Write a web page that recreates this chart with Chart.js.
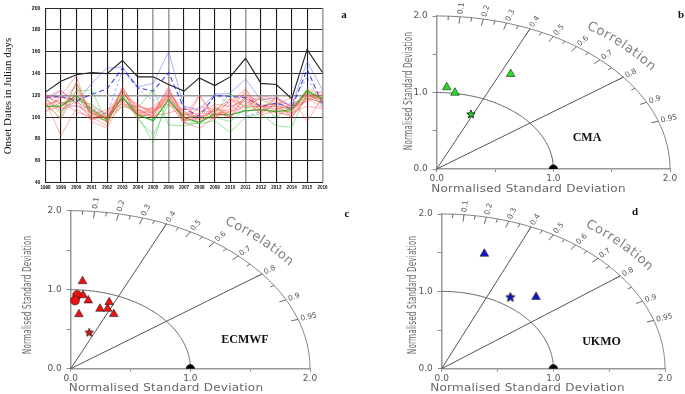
<!DOCTYPE html>
<html><head><meta charset="utf-8">
<script src="https://cdn.jsdelivr.net/npm/chart.js@4.4.1/dist/chart.umd.min.js"></script>
<style>
html,body{margin:0;padding:0;background:#fff;width:685px;height:394px;overflow:hidden;position:relative}
canvas{position:absolute}
</style></head><body>
<canvas id="ca" style="left:0;top:0" width="348" height="197"></canvas>
<canvas id="cb" style="left:345px;top:0" width="340" height="197"></canvas>
<canvas id="cc" style="left:0;top:197px" width="350" height="197"></canvas>
<canvas id="cd" style="left:345px;top:197px" width="340" height="197"></canvas>
<script>
// ---------- Panel a data ----------
const YEARS = ['1998','1999','2000','2001','2002','2003','2004','2005','2006','2007','2008','2009','2010','2011','2012','2013','2014','2015','2016'];
const OBSERVED = [123,133,139,141,140,152,137,137,130,124,136,129,137,154,131,130,117,162,141];
const UKMO_MEMBERS = [
  [118,119,115,121,126,145,127,124,141,108,101,120,119,118,110,113,108,144,112],
  [116,124,113,131,145,146,128,131,160,110,107,121,122,135,116,118,110,151,125],
  [119,113,110,108,102,143,126,115,122,105,96,121,112,101,105,112,113,137,110]
];
const CMA_MEMBERS = [
  [110,110,124,125,95,120,104,96,116,98,95,108,102,106,107,106,105,124,118],
  [112,99,132,100,97,125,101,77,120,95,94,97,86,100,103,92,91,122,116],
  [117,105,118,104,96,110,109,125,93,92,95,104,122,108,118,110,107,126,110],
  [108,113,115,112,101,120,98,84,112,103,100,100,96,108,111,100,110,118,113],
  [110,110,120,107,98,118,102,97,116,100,95,103,102,106,107,105,107,124,117]
];
const ECMWF_MEMBERS = [
  [118,125,112,100,92,128,105,104,128,95,90,100,105,125,110,108,103,120,115],
  [115,83,108,97,104,118,103,102,121,100,120,101,108,118,102,106,100,119,117],
  [104,120,138,96,90,116,108,99,120,110,97,110,100,112,120,116,110,115,125],
  [110,117,128,102,99,122,110,105,115,94,120,98,117,104,111,112,118,96,119],
  [120,112,120,110,103,113,102,101,104,108,106,105,114,126,104,118,105,122,112],
  [117,107,111,104,99,126,99,104,126,99,101,103,101,120,107,104,102,117,109],
  [113,98,124,108,100,110,106,108,118,104,95,108,105,110,110,110,108,125,122],
  [106,110,118,105,95,120,112,103,125,102,104,112,110,115,103,113,100,118,113],
  [119,118,116,98,105,124,104,106,117,97,99,99,112,122,109,107,112,120,120],
  [112,115,105,100,101,112,110,107,112,96,110,107,99,118,116,109,104,110,108],
  [122,108,114,106,96,127,107,101,123,105,100,106,117,110,118,114,106,123,116],
  [116,103,132,102,107,115,101,110,120,98,103,104,104,117,106,119,109,114,121]
];
const Y_TICKS = [40,60,80,100,120,140,160,180,200];
const GRAY_YEARS = ['2005','2006','2011','2016'];

// ---------- Taylor diagram data (normalised std-dev coordinates) ----------
const CMA_TRI_X = [0.086,0.157,0.634];
const CMA_TRI_Y = [1.068,0.997,1.242];
const CMA_STAR_X = [0.294];
const CMA_STAR_Y = [0.719];

const ECMWF_TRI_X = [0.099,0.103,0.147,0.322,0.245,0.308,0.360,0.069];
const ECMWF_TRI_Y = [1.108,0.930,0.864,0.842,0.759,0.759,0.691,0.689];
const ECMWF_CIRC_X = [0.054,0.036];
const ECMWF_CIRC_Y = [0.932,0.864];
const ECMWF_STAR_X = [0.155];
const ECMWF_STAR_Y = [0.461];

const UKMO_TRI_X = [0.382,0.845];
const UKMO_TRI_Y = [1.486,0.927];
const UKMO_STAR_X = [0.615];
const UKMO_STAR_Y = [0.927];

const REF_X = [1.0];
const REF_Y = [0.0];

const CORR_LABELS = [0.1,0.2,0.3,0.4,0.5,0.6,0.7,0.8,0.9,0.95];
const CORR_MINOR = [0.05,0.15,0.25,0.35,0.45,0.55,0.65,0.75,0.85];
const CORR_LINES = [0.4,0.8];
const STD_TICKS = [0,0.5,1,1.5,2];

Chart.defaults.font.family = 'DejaVu Sans';
Chart.defaults.animation = false;

const pts = (xs, ys) => xs.map((v,i)=>({x:v, y:ys[i]}));

// ---------- Panel a ----------
const A = {L:45.5, R:322.5, T:3.3, B:182.7, W:348, H:197};
const lineSets = [];
ECMWF_MEMBERS.forEach(m=>lineSets.push({data:m, borderColor:'rgba(255,70,70,0.55)', borderWidth:0.8}));
CMA_MEMBERS.forEach((m,i)=>lineSets.push({data:m, borderColor: i===4?'rgba(0,170,0,0.9)':'rgba(40,200,40,0.6)', borderWidth: i===4?1.1:0.8}));
UKMO_MEMBERS.forEach((m,i)=>lineSets.push({data:m, borderColor: i===0?'rgba(30,40,230,0.85)':'rgba(70,90,255,0.6)', borderWidth: i===0?1.1:0.8, borderDash: i===0?[5,3]:(i===2?[3,2]:[])}));
lineSets.push({data:OBSERVED, borderColor:'#222', borderWidth:1.1});
lineSets.forEach(d=>{d.pointRadius=0; d.tension=0; d.fill=false;});

const aDeco = {
  id:'aDeco',
  afterDraw(chart){
    const c = chart.ctx; c.save();
    c.fillStyle='#111';
    c.translate(8,96); c.rotate(-Math.PI/2);
    c.font='11px "Liberation Serif"'; c.textAlign='center'; c.textBaseline='middle';
    c.fillText('Onset Dates in Julian days',0,0);
    c.restore(); c.save();
    c.font='bold 11px "Liberation Serif"'; c.fillStyle='#111'; c.textAlign='center'; c.textBaseline='middle';
    c.fillText('a',344,15);
    c.restore();
  }
};

new Chart(document.getElementById('ca'), {
  type:'line',
  data:{labels:YEARS, datasets:lineSets},
  options:{
    responsive:false, devicePixelRatio:1,
    layout:{padding:{left:0,top:A.T,right:A.W-A.R,bottom:0}},
    plugins:{legend:{display:false}, tooltip:{enabled:false}},
    scales:{
      x:{
        afterFit:s=>{s.height=A.H-A.B;},
        grid:{drawTicks:false, color:c=>GRAY_YEARS.includes(YEARS[c.index])?'#a0a0a0':'#1a1a1a', lineWidth:c=>GRAY_YEARS.includes(YEARS[c.index])?1.6:1.1},
        border:{display:true,color:'#222'},
        ticks:{autoSkip:false, maxRotation:0, padding:2, color:'#111', font:{size:4.6, weight:'bold', family:'Liberation Sans'}}
      },
      y:{
        min:40, max:200,
        afterFit:s=>{s.width=A.L;},
        afterBuildTicks:s=>{s.ticks=Y_TICKS.map(v=>({value:v}));},
        grid:{drawTicks:false, color:c=>c.tick&&c.tick.value===120?'#9a9a9a':'#2a2a2a', lineWidth:c=>c.tick&&c.tick.value===120?1.6:1},
        border:{display:true,color:'#222'},
        ticks:{padding:5, color:'#111', font:{size:5.2, weight:'bold', family:'Liberation Sans'}}
      }
    }
  },
  plugins:[aDeco]
});

// ---------- Taylor diagrams ----------
function starImg(fill, size){
  const c=document.createElement('canvas'); c.width=c.height=size;
  const g=c.getContext('2d'); const cx=size/2, cy=size/2+0.4, R=size/2-0.6, r=R*0.45;
  g.beginPath();
  for(let i=0;i<10;i++){const a=-Math.PI/2+i*Math.PI/5; const rr=i%2?r:R; g.lineTo(cx+rr*Math.cos(a), cy+rr*Math.sin(a));}
  g.closePath(); g.fillStyle=fill; g.fill(); g.strokeStyle='#111'; g.lineWidth=0.8; g.stroke();
  return c;
}

const taylorGrid = {
  id:'taylorGrid',
  beforeDatasetsDraw(chart){
    const c=chart.ctx, xs=chart.scales.x, ys=chart.scales.y;
    const X=v=>xs.getPixelForValue(v), Y=v=>ys.getPixelForValue(v);
    const x0=X(0), y0=Y(0);
    c.save();
    const arc=(R)=>{c.beginPath(); for(let i=0;i<=120;i++){const t=Math.PI/2*i/120; const px=X(R*Math.cos(t)), py=Y(R*Math.sin(t)); i?c.lineTo(px,py):c.moveTo(px,py);} c.stroke();};
    c.lineWidth=1; c.strokeStyle='#808080'; arc(2);
    c.strokeStyle='#606060'; arc(1);
    CORR_LINES.forEach(r=>{const t=Math.acos(r); c.beginPath(); c.moveTo(x0,y0); c.lineTo(X(2*Math.cos(t)),Y(2*Math.sin(t))); c.strokeStyle='#555'; c.stroke();});
    const tick=(r,len)=>{const t=Math.acos(r); const px=X(2*Math.cos(t)), py=Y(2*Math.sin(t)); const dx=px-x0, dy=py-y0, n=Math.hypot(dx,dy); c.beginPath(); c.moveTo(px,py); c.lineTo(px-dx/n*len, py-dy/n*len); c.stroke(); return [px,py,dx/n,dy/n];};
    c.strokeStyle='#666'; c.lineWidth=1;
    CORR_MINOR.forEach(r=>tick(r,4));
    c.fillStyle='#555'; c.font='7.5px "DejaVu Sans"'; c.textBaseline='middle'; c.textAlign='left';
    CORR_LABELS.forEach(r=>{
      const [px,py,ux,uy]=tick(r,7);
      c.save(); c.translate(px+ux*2.5, py+uy*2.5); c.rotate(Math.atan2(uy,ux));
      c.fillText(String(r),0,0); c.restore();
    });
    c.restore();
  },
  afterDraw(chart, args, o){
    const c=chart.ctx, xs=chart.scales.x, ys=chart.scales.y;
    const X=v=>xs.getPixelForValue(v), Y=v=>ys.getPixelForValue(v);
    const kx=X(1)-X(0), ky=Y(0)-Y(1);
    c.save();
    c.font='13px "DejaVu Sans"'; c.fillStyle='#808080'; c.textAlign='left'; c.textBaseline='alphabetic';
    const R=2.24; let t=55*Math.PI/180;
    for(const ch of 'Correlation'){
      const px=X(R*Math.cos(t)), py=Y(R*Math.sin(t));
      const tx=kx*R*Math.sin(t), ty=ky*R*Math.cos(t);
      c.save(); c.translate(px,py); c.rotate(Math.atan2(ty,tx)); c.fillText(ch,0,0); c.restore();
      const w=c.measureText(ch).width+0.6;
      t-= w/Math.hypot(tx,ty);
    }
    c.font='10px "DejaVu Sans"'; c.fillStyle='#666'; c.textAlign='center'; c.textBaseline='middle';
    try{c.letterSpacing='0.2px';}catch(e){}
    c.save(); c.translate(o.xt[0], o.xt[1]); c.scale(1.2,1);
    c.fillText('Normalised Standard Deviation', 0, 0); c.restore();
    c.save(); c.translate(o.yt[0], o.yt[1]); c.rotate(-Math.PI/2); c.scale(0.73,1.3);
    c.fillText('Normalised Standard Deviation', 0, 0); c.restore();
    try{c.letterSpacing='0px';}catch(e){}
    c.font='bold 12px "Liberation Serif"'; c.fillStyle='#111';
    c.fillText(o.name, o.np[0], o.np[1]);
    c.font='bold 11px "Liberation Serif"';
    c.fillText(o.letter, o.lp[0], o.lp[1]);
    c.restore();
  }
};

function taylor(id, area, sets, opts){
  return new Chart(document.getElementById(id), {
    type:'scatter',
    data:{datasets:sets.concat([{data:pts(REF_X,REF_Y), pointStyle:'circle', pointRadius:4.2, backgroundColor:'#000', borderColor:'#000', borderWidth:0.5, clip:{left:10,right:10,top:10,bottom:0}}])},
    options:{
      responsive:false, devicePixelRatio:1,
      layout:{padding:{left:0, top:area.T, right:area.W-area.R, bottom:0}},
      plugins:{legend:{display:false}, tooltip:{enabled:false}, taylorGrid:opts},
      scales:{
        x:{type:'linear', min:0, max:2,
          afterFit:s=>{s.height=area.H-area.B;},
          afterBuildTicks:s=>{s.ticks=STD_TICKS.map(v=>({value:v}));},
          grid:{display:true, drawOnChartArea:false, drawTicks:true, tickLength:3, color:'#888', lineWidth:1},
          border:{display:true, color:'#999', width:1.5},
          ticks:{padding:1.5, color:'#555', font:{size:9}, callback:v=>(v%1===0?v.toFixed(1):'')}
        },
        y:{type:'linear', min:0, max:2,
          afterFit:s=>{s.width=area.L;},
          afterBuildTicks:s=>{s.ticks=STD_TICKS.map(v=>({value:v}));},
          grid:{display:true, drawOnChartArea:false, drawTicks:true, tickLength:4, color:'#888', lineWidth:1},
          border:{display:true, color:'#999', width:1.5},
          ticks:{padding:5, color:'#555', font:{size:9}, callback:v=>(v%1===0?v.toFixed(1):'')}
        }
      }
    },
    plugins:[taylorGrid]
  });
}
const tri=(xs,ys,fill)=>({data:pts(xs,ys), pointStyle:'triangle', pointRadius:5, backgroundColor:fill, borderColor:'#222', borderWidth:0.6, clip:false});

taylor('cb', {L:91.7,R:325,T:16,B:169,W:340,H:197}, [
  tri(CMA_TRI_X,CMA_TRI_Y,'#22dd22'),
  {data:pts(CMA_STAR_X,CMA_STAR_Y), pointStyle:starImg('#22cc22',10), clip:false}
], {xt:[183.5,189.5], yt:[63.7,91], name:'CMA', np:[242,138], letter:'b', lp:[336,15]});

taylor('cc', {L:70.7,R:310,T:13.7,B:171.7,W:350,H:197}, [
  tri(ECMWF_TRI_X,ECMWF_TRI_Y,'#ee1111'),
  {data:pts(ECMWF_CIRC_X,ECMWF_CIRC_Y), pointStyle:'circle', pointRadius:4.5, backgroundColor:'#ee1111', borderColor:'#222', borderWidth:0.6, clip:false},
  {data:pts(ECMWF_STAR_X,ECMWF_STAR_Y), pointStyle:starImg('#ee1111',10), clip:false}
], {xt:[166,191], yt:[28,98], name:'ECMWF', np:[245,143], letter:'c', lp:[347,17]});

taylor('cd', {L:96.7,R:320,T:17,B:171.7,W:340,H:197}, [
  tri(UKMO_TRI_X,UKMO_TRI_Y,'#1515cc'),
  {data:pts(UKMO_STAR_X,UKMO_STAR_Y), pointStyle:starImg('#1515cc',11), clip:false}
], {xt:[182.5,191], yt:[68,98], name:'UKMO', np:[256.5,145], letter:'d', lp:[290,15]});
</script>
</body></html>
